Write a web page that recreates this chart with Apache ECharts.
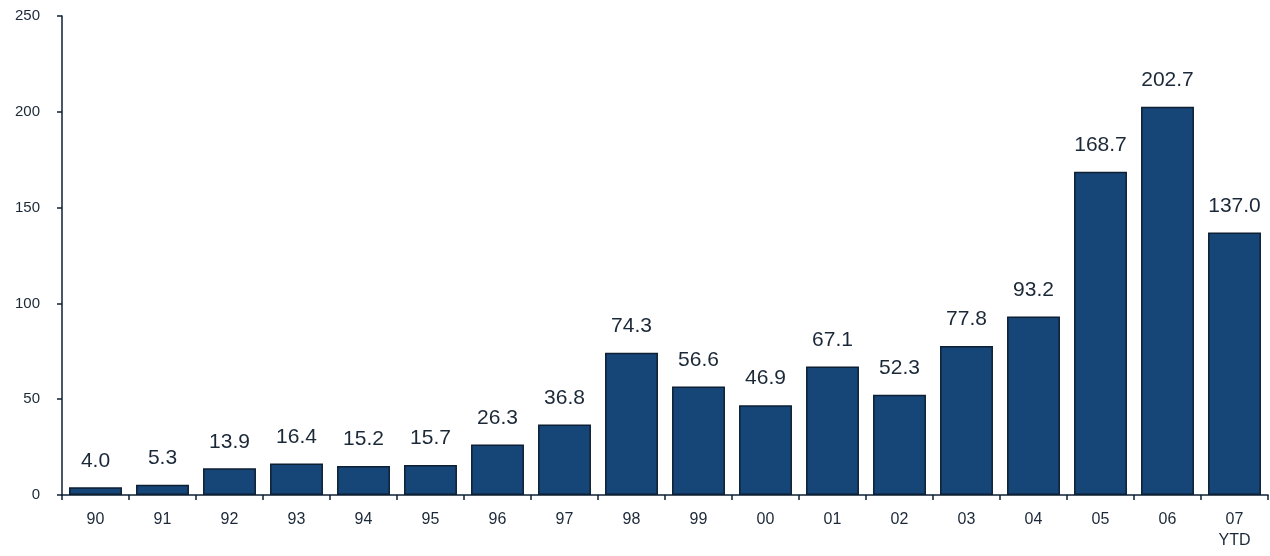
<!DOCTYPE html>
<html>
<head>
<meta charset="utf-8">
<script src="https://cdn.jsdelivr.net/npm/echarts@6/dist/echarts.min.js"></script>
<style>
  html, body { margin: 0; padding: 0; background: #ffffff; }
  #chart { width: 1270px; height: 556px; }
</style>
</head>
<body>
<div id="chart"></div>
<script>
// Year categories (two-digit years; last one is year-to-date)
const categories = ['90', '91', '92', '93', '94', '95', '96', '97', '98', '99',
                    '00', '01', '02', '03', '04', '05', '06', '07\nYTD'];
// Annual values
const values = [4.0, 5.3, 13.9, 16.4, 15.2, 15.7, 26.3, 36.8, 74.3, 56.6,
                46.9, 67.1, 52.3, 77.8, 93.2, 168.7, 202.7, 137.0];
// Value axis range
const yMin = 0, yMax = 250, yStep = 50;

const textColor = '#1b2838';
const lineColor = '#0d1f33';
const font = '"Liberation Sans", Arial, sans-serif';

const chart = echarts.init(document.getElementById('chart'));
chart.setOption({
  animation: false,
  grid: { left: 62, right: 2, top: 16, bottom: 61 },
  xAxis: {
    type: 'category',
    data: categories,
    axisLine: { show: true, lineStyle: { color: lineColor, width: 1.5 } },
    axisTick: { show: true, length: 5, lineStyle: { color: lineColor, width: 1.5 } },
    axisLabel: { color: textColor, fontFamily: font, fontSize: 16, margin: 14, lineHeight: 21, interval: 0 }
  },
  yAxis: {
    type: 'value',
    min: yMin, max: yMax, interval: yStep,
    splitLine: { show: false },
    axisLine: { show: true, lineStyle: { color: lineColor, width: 1.5 } },
    axisTick: { show: true, length: 5, lineStyle: { color: lineColor, width: 1.5 } },
    axisLabel: { color: textColor, fontFamily: font, fontSize: 15, margin: 22 }
  },
  series: [{
    type: 'bar',
    data: values,
    barCategoryGap: '21%',
    itemStyle: { color: '#164677', borderColor: lineColor, borderWidth: 1.5 },
    label: {
      show: true, position: 'top', distance: 16,
      color: textColor, fontFamily: font, fontSize: 21,
      formatter: p => p.value.toFixed(1)
    }
  }]
});
</script>
</body>
</html>
